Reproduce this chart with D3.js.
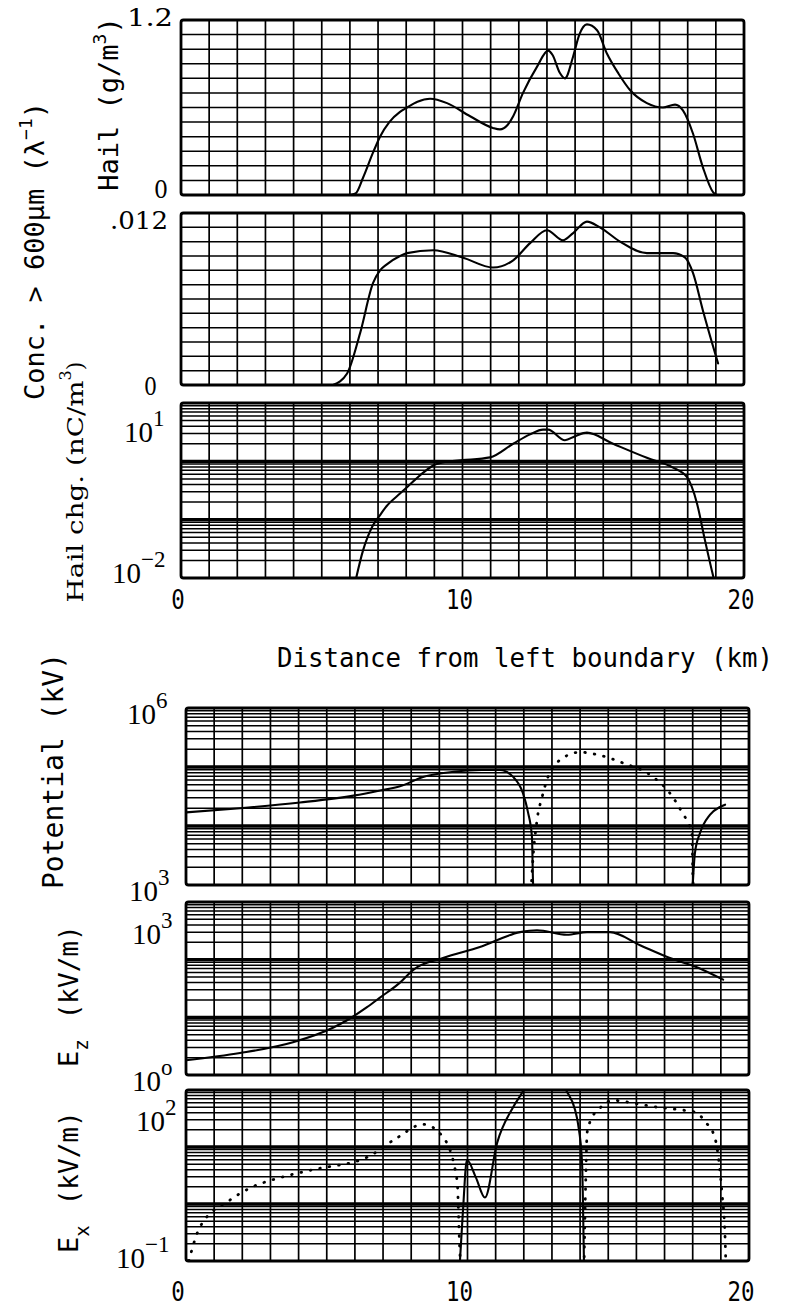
<!DOCTYPE html>
<html>
<head>
<meta charset="utf-8">
<script src="https://cdn.jsdelivr.net/npm/d3@7/dist/d3.min.js"></script>
<style>
  body { margin: 0; background: #fff; }
  svg { display: block; }
</style>
</head>
<body>
<svg id="fig" width="785" height="1309"></svg>
<script>
// ---- Hail mass content (g/m^3) along the section ----
const hailKm   = [6.0, 6.2, 6.47, 6.82, 7.07, 7.4, 7.78, 8.03, 8.4, 8.85, 9.45, 10.27, 11.08, 11.33, 11.6, 11.8, 12.15, 12.65, 13.04, 13.2, 13.45, 13.64, 13.93, 14.15, 14.42, 14.78, 15.13, 15.55, 15.95, 16.55, 17.12, 17.55, 17.83, 18.19, 18.54, 18.9, 19.04];
const hailMass = [0.0, 0.01, 0.12, 0.29, 0.40, 0.50, 0.57, 0.60, 0.64, 0.66, 0.63, 0.54, 0.46, 0.45, 0.48, 0.54, 0.70, 0.88, 0.99, 0.96, 0.84, 0.80, 0.95, 1.10, 1.17, 1.13, 0.97, 0.83, 0.72, 0.63, 0.60, 0.62, 0.58, 0.42, 0.19, 0.02, 0.0];

// ---- Concentration of hail larger than 600 um ----
const concKm  = [5.4, 5.9, 6.36, 6.82, 7.07, 7.3, 7.78, 8.03, 8.96, 10.0, 11.08, 11.8, 12.4, 13.0, 13.57, 13.93, 14.42, 14.88, 15.6, 16.55, 17.48, 17.9, 18.19, 18.54, 18.9, 19.08];
const concVal = [0.0, 0.0008, 0.0036, 0.0071, 0.0080, 0.0084, 0.0090, 0.0092, 0.0094, 0.0089, 0.0082, 0.0087, 0.0099, 0.0108, 0.0101, 0.0106, 0.0114, 0.0110, 0.0100, 0.0092, 0.0092, 0.0089, 0.0078, 0.0052, 0.0027, 0.0015];

// ---- Hail charge density (nC/m^3) ----
const chgKm  = [6.15, 6.47, 6.82, 7.07, 7.3, 7.78, 8.03, 8.5, 8.96, 9.5, 10.0, 10.98, 11.8, 12.4, 12.86, 13.04, 13.64, 14.0, 14.42, 15.35, 16.55, 17.48, 17.97, 18.33, 18.61, 18.9, 19.0];
const chgVal = [0.007, 0.030, 0.080, 0.12, 0.17, 0.28, 0.36, 0.58, 0.85, 1.0, 1.05, 1.17, 2.0, 2.9, 3.5, 3.5, 2.3, 2.7, 3.1, 2.0, 1.15, 0.78, 0.54, 0.19, 0.045, 0.011, 0.007];

// ---- Potential (kV): positive branches solid, negative branch dotted ----
const potKmA  = [0.0, 1.92, 4.05, 6.0, 6.9, 7.6, 8.42, 9.5, 10.5, 11.15, 11.62, 11.97, 12.15, 12.29, 12.33, 12.36];
const potValA = [17000, 20000, 25000, 33000, 40000, 47000, 68000, 83000, 89000, 89000, 68000, 36000, 17000, 6500, 1070, 800];
const potKmB  = [12.26, 12.29, 12.47, 12.65, 12.82, 13.29, 14.0, 14.7, 15.52, 16.59, 17.19, 17.62, 17.97, 18.01, 18.03];
const potValB = [800, 1500, 12600, 31000, 60000, 132000, 178000, 158000, 117000, 68000, 36000, 17000, 7600, 1200, 800];
const potKmC  = [17.99, 18.01, 18.08, 18.26, 18.61, 18.97, 19.15];
const potValC = [800, 1200, 3500, 7600, 15500, 21000, 23000];

// ---- Vertical field Ez (kV/m) ----
const ezKm  = [0.0, 1.92, 3.8, 5.22, 5.72, 6.43, 6.89, 7.6, 8.06, 9.13, 10.44, 11.87, 12.47, 13.53, 14.25, 15.06, 16.13, 17.19, 18.15, 19.08];
const ezVal = [1.8, 2.4, 3.7, 6.6, 8.9, 15, 22, 40, 66, 107, 166, 300, 324, 270, 300, 300, 178, 107, 74, 45];

// ---- Horizontal field Ex (kV/m): dotted where negative ----
const exKmA  = [0.1, 0.5, 1.56, 2.27, 3.34, 4.51, 6.43, 7.5, 8.42, 9.13, 9.63, 9.73, 9.76];
const exValA = [0.1, 0.4, 1.17, 1.9, 2.9, 4.0, 6.6, 14.5, 25, 15, 2.6, 0.14, 0.08];
const exKmB  = [9.72, 9.84, 9.98, 10.3, 10.62, 11.05, 11.62, 11.97, 12.3, 12.8, 13.2, 13.5, 13.82, 13.93, 14.07, 14.1, 14.14];
const exValB = [0.08, 0.78, 5.9, 2.9, 1.3, 11.7, 50, 95, 200, 300, 200, 100, 45, 25, 5.2, 1.17, 0.08];
const exKmC  = [14.14, 14.2, 14.25, 14.35, 14.7, 15.17, 15.88, 16.73, 17.55, 18.15, 18.44, 18.72, 18.86, 19.04, 19.15, 19.18];
const exValC = [0.08, 2.6, 18, 27.5, 48, 66, 59, 50, 45, 40, 27.5, 18, 10, 1.55, 0.26, 0.08];

// ---- Axis labelling ----
const xTickKm = [0, 10, 20];
const hailTicks = [0, 1.2];
const hailTickText = ["0", "1.2"];
const concTicks = [0, 0.012];
const concTickText = ["0", ".012"];

const SANS_MONO = "'DejaVu Sans Mono', monospace";
const TYPEWRITER = "'DejaVu Serif', 'Liberation Serif', serif";
const SERIF = "'Liberation Serif', 'Times New Roman', serif";

const svg = d3.select("#fig");

const xTop = d3.scaleLinear().domain([0, 20]).range([181, 744]);
const xBot = d3.scaleLinear().domain([0, 20]).range([186, 749]);

let clipId = 0;

// Draws the ruled grid and frame of one panel, returns a clipped layer for curves
function panel(x, y, hValues, heavyValues) {
  const [xa, xb] = x.range();
  const [yb, ya] = y.range();
  const g = svg.append("g");
  const grid = g.append("g").attr("stroke", "#000").attr("fill", "none");
  d3.range(0, 21).forEach(k => {
    grid.append("line")
      .attr("x1", x(k)).attr("x2", x(k))
      .attr("y1", ya).attr("y2", yb)
      .attr("stroke-width", 1.7);
  });
  hValues.forEach(v => {
    grid.append("line")
      .attr("x1", xa).attr("x2", xb)
      .attr("y1", y(v)).attr("y2", y(v))
      .attr("stroke-width", 1.5);
  });
  heavyValues.forEach(v => {
    grid.append("line")
      .attr("x1", xa).attr("x2", xb)
      .attr("y1", y(v)).attr("y2", y(v))
      .attr("stroke-width", 3.4);
  });
  g.append("rect")
    .attr("x", xa).attr("y", ya)
    .attr("width", xb - xa).attr("height", yb - ya)
    .attr("rx", 2.5)
    .attr("fill", "none").attr("stroke", "#000").attr("stroke-width", 2.8);

  const id = "clip" + (clipId++);
  svg.append("clipPath").attr("id", id)
    .append("rect").attr("x", xa).attr("y", ya)
    .attr("width", xb - xa).attr("height", yb - ya);
  return g.append("g").attr("clip-path", `url(#${id})`);
}

function logLines(lo, hi) {
  const minor = [], major = [];
  for (let e = lo; e <= hi; e++) {
    major.push(Math.pow(10, e));
    if (e < hi) for (let m = 2; m <= 9; m++) minor.push(m * Math.pow(10, e));
  }
  return { minor, major };
}

function curve(layer, x, y, km, vals, dotted) {
  const line = d3.line()
    .x(d => x(d[0])).y(d => y(d[1]))
    .curve(d3.curveMonotoneX);
  const p = layer.append("path")
    .datum(d3.zip(km, vals))
    .attr("d", line)
    .attr("fill", "none")
    .attr("stroke", "#000")
    .attr("stroke-linejoin", "round");
  if (dotted) {
    p.attr("stroke-width", 2.8).attr("stroke-linecap", "round").attr("stroke-dasharray", "0.6,9");
  } else {
    p.attr("stroke-width", 2.1).attr("stroke-linecap", "round");
  }
}

function pow10(x, y, exp) {
  const t = svg.append("text").attr("x", x).attr("y", y)
    .attr("font-family", SERIF).attr("font-size", 29).attr("fill", "#000");
  t.append("tspan").text("10");
  t.append("tspan").attr("dy", -16).attr("font-size", 23).text(exp);
}

function plainTick(xEnd, y, txt, width) {
  svg.append("text").attr("x", xEnd - width).attr("y", y)
    .attr("font-family", TYPEWRITER).attr("font-size", 24)
    .attr("textLength", width).attr("lengthAdjust", "spacingAndGlyphs")
    .text(txt);
}

function xTicks(x, base, shift) {
  xTickKm.forEach(v => {
    svg.append("text")
      .attr("x", x(v) + shift).attr("y", base)
      .attr("text-anchor", "middle")
      .attr("font-family", SANS_MONO).attr("font-size", 27)
      .attr("textLength", String(v).length * 13.5)
      .attr("lengthAdjust", "spacingAndGlyphs")
      .text(v);
  });
}

// Rotated axis title; parts = [[text, fontSize, dy, dx, textLength], ...]
function yTitle(cx, cy, anchor, family, parts) {
  const t = svg.append("text")
    .attr("transform", `translate(${cx},${cy}) rotate(-90)`)
    .attr("text-anchor", anchor)
    .attr("font-family", family).attr("fill", "#000");
  parts.forEach(([s, fs, dy, dx, len]) => {
    const sp = t.append("tspan").attr("font-size", fs).text(s);
    if (dy) sp.attr("dy", dy);
    if (dx) sp.attr("dx", dx);
    if (len) sp.attr("textLength", len).attr("lengthAdjust", "spacingAndGlyphs");
  });
}

// ---------- Panel 1: hail mass ----------
const yHail = d3.scaleLinear().domain([0, 1.2]).range([195, 20]);
const p1 = panel(xTop, yHail, d3.range(1, 12).map(i => i / 10), []);
curve(p1, xTop, yHail, hailKm, hailMass, false);
plainTick(173, yHail(hailTicks[1]) + 6, hailTickText[1], 46);
plainTick(168, yHail(hailTicks[0]) + 3, hailTickText[0], 14);

// ---------- Panel 2: concentration ----------
const yConc = d3.scaleLinear().domain([0, 0.012]).range([385, 213]);
const p2 = panel(xTop, yConc, d3.range(1, 12).map(i => i / 1000), []);
curve(p2, xTop, yConc, concKm, concVal, false);
plainTick(168, yConc(concTicks[1]) + 16, concTickText[1], 58);
plainTick(157, yConc(concTicks[0]) + 10, concTickText[0], 13);

// ---------- Panel 3: hail charge (log) ----------
const yChg = d3.scaleLog().domain([1e-2, 1e1]).range([578, 403]);
const l3 = logLines(-2, 1);
const p3 = panel(xTop, yChg, l3.minor, l3.major.slice(1, -1));
curve(p3, xTop, yChg, chgKm, chgVal, false);
pow10(124, yChg(10) + 39, "1");
pow10(112, yChg(0.01) + 5, "\u22122");
xTicks(xTop, 609, -3);

// ---------- Panel 4: potential (log) ----------
const yPot = d3.scaleLog().domain([1e3, 1e6]).range([885, 708]);
const l4 = logLines(3, 6);
const p4 = panel(xBot, yPot, l4.minor, l4.major.slice(1, -1));
curve(p4, xBot, yPot, potKmA, potValA, false);
curve(p4, xBot, yPot, potKmB, potValB, true);
curve(p4, xBot, yPot, potKmC, potValC, false);
pow10(127, yPot(1e6) + 16, "6");
pow10(129, yPot(1e3) + 16, "3");

// ---------- Panel 5: Ez (log) ----------
const yEz = d3.scaleLog().domain([1, 1e3]).range([1075, 902]);
const l5 = logLines(0, 3);
const p5 = panel(xBot, yEz, l5.minor, l5.major.slice(1, -1));
curve(p5, xBot, yEz, ezKm, ezVal, false);
pow10(132, yEz(1e3) + 42, "3");
pow10(132, yEz(1) + 16, "o");

// ---------- Panel 6: Ex (log) ----------
const yEx = d3.scaleLog().domain([0.1, 1e2]).range([1261, 1090]);
const l6 = logLines(-1, 2);
const p6 = panel(xBot, yEx, l6.minor, l6.major.slice(1, -1));
curve(p6, xBot, yEx, exKmA, exValA, true);
curve(p6, xBot, yEx, exKmB, exValB, false);
curve(p6, xBot, yEx, exKmC, exValC, true);
pow10(136, yEx(1e2) + 41, "2");
pow10(116, yEx(0.1) + 7, "\u22121");
xTicks(xBot, 1301, -8);

// ---------- Axis titles ----------
svg.append("text").attr("x", 277).attr("y", 667)
  .attr("font-family", SANS_MONO).attr("font-size", 26)
  .attr("textLength", 496).attr("lengthAdjust", "spacingAndGlyphs")
  .text("Distance from left boundary (km)");

yTitle(118, 104, "middle", SANS_MONO, [["Hail (g/m", 27], ["3", 18, -12], [")", 27, 12]]);
yTitle(44, 251, "middle", SANS_MONO, [["Conc. > 600\u03bcm (\u03bb", 27], ["\u22121", 18, -12], [")", 27, 12]]);
yTitle(83, 482, "middle", TYPEWRITER, [["Hail chg. (nC/m", 22, 0, 0, 222], ["3", 16, -12], [")", 22, 12]]);
yTitle(63, 771, "middle", SANS_MONO, [["Potential (kV)", 28]]);
yTitle(78, 1067, "start", SANS_MONO, [["E", 27], ["z", 19, 10], ["(kV/m)", 26, -10, 20]]);
yTitle(78, 1253, "start", SANS_MONO, [["E", 27], ["x", 19, 11], ["(kV/m)", 26, -11, 20]]);
</script>
</body>
</html>
